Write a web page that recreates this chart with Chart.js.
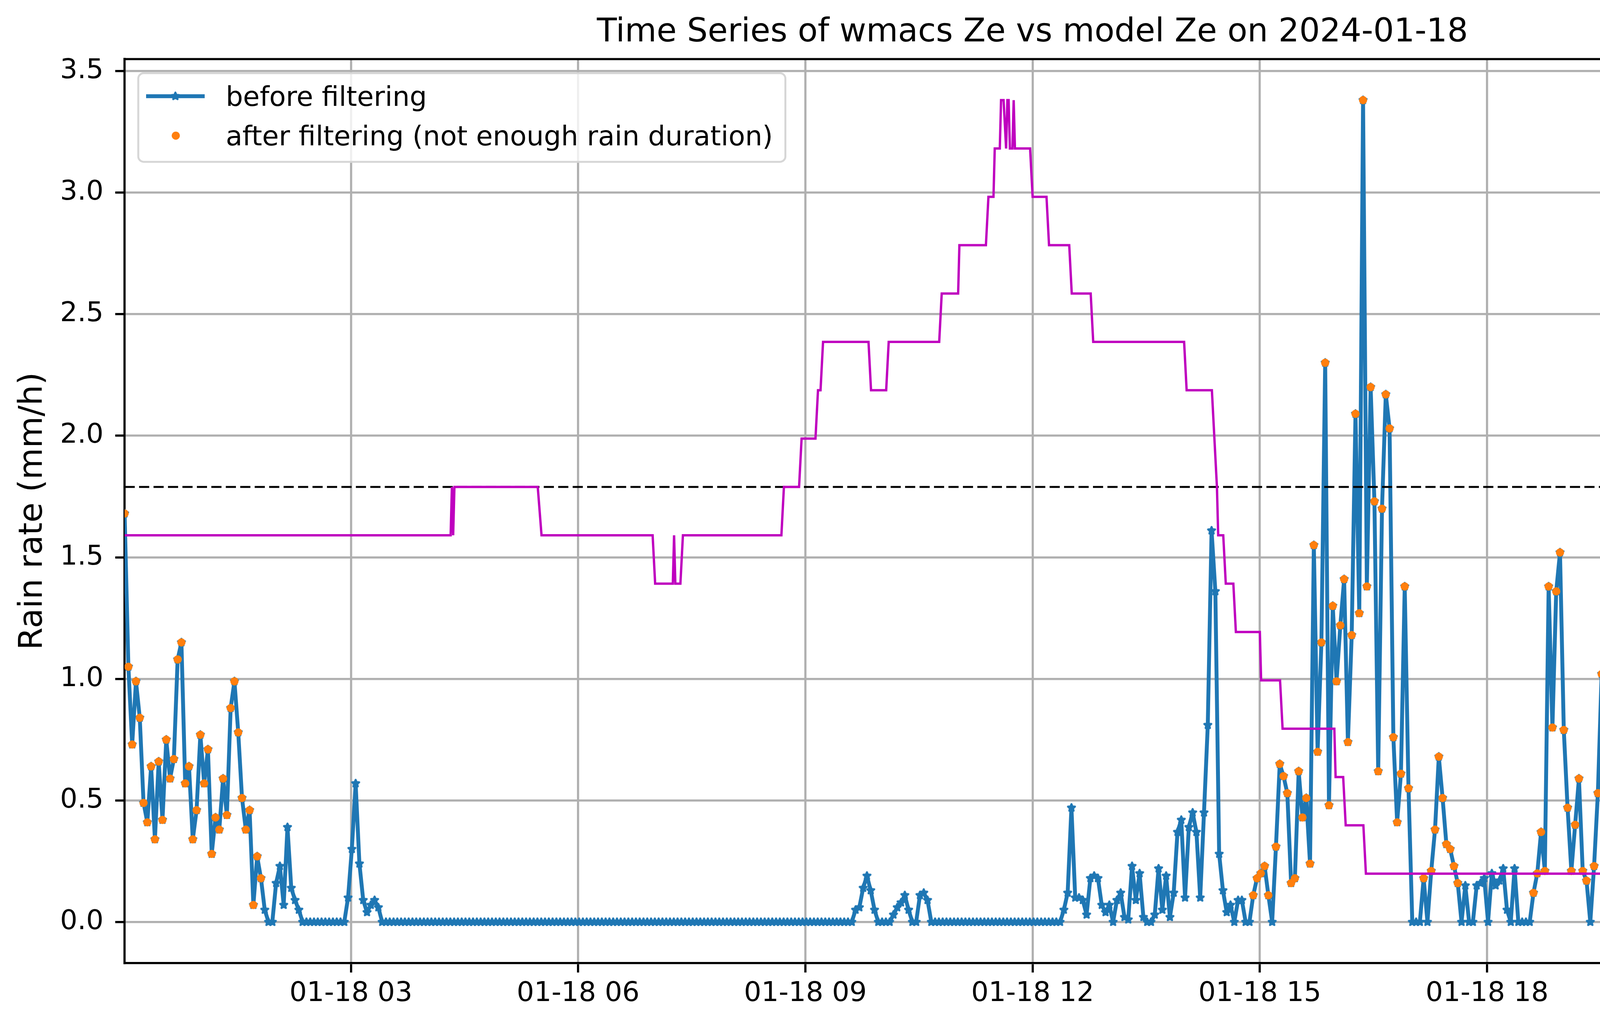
<!DOCTYPE html>
<html>
<head>
<meta charset="utf-8">
<script src="https://cdn.jsdelivr.net/npm/chart.js@4.4.1/dist/chart.umd.min.js"></script>
<style>
html,body{margin:0;padding:0;background:#fff;overflow:hidden}
canvas{display:block}
</style>
</head>
<body>
<canvas id="c" width="5344" height="2631" style="width:5344px;height:2631px"></canvas>
<script>
// ---------------- data ----------------
const titleText = 'Time Series of wmacs Ze vs model Ze on 2024-01-18';
const leftAxisLabel = 'Rain rate (mm/h)';
const rightAxisLabel = 'Temperature (\u00b0 C)';
const seriesLabels = ['before filtering', 'after filtering (not enough rain duration)'];

// rain rate sampled every 3 minutes from 00:00:45 (mm/h), one row per hour
const firstMinute = 0.75;
const stepMinutes = 3;
const rainRate = [
  1.68,1.05,0.73,0.99,0.84,0.49,0.41,0.64,0.34,0.66,0.42,0.75,0.59,0.67,1.08,1.15,0.57,0.64,0.34,0.46, // 00
  0.77,0.57,0.71,0.28,0.43,0.38,0.59,0.44,0.88,0.99,0.78,0.51,0.38,0.46,0.07,0.27,0.18,0.05,0,0,      // 01
  0.16,0.23,0.07,0.39,0.14,0.09,0.05,0,0,0,0,0,0,0,0,0,0,0,0,0.10,                                      // 02
  0.30,0.57,0.24,0.09,0.04,0.07,0.09,0.06,0,0,0,0,0,0,0,0,0,0,0,0,                                     // 03
  0,0,0,0,0,0,0,0,0,0,0,0,0,0,0,0,0,0,0,0,                                                             // 04
  0,0,0,0,0,0,0,0,0,0,0,0,0,0,0,0,0,0,0,0,                                                             // 05
  0,0,0,0,0,0,0,0,0,0,0,0,0,0,0,0,0,0,0,0,                                                             // 06
  0,0,0,0,0,0,0,0,0,0,0,0,0,0,0,0,0,0,0,0,                                                             // 07
  0,0,0,0,0,0,0,0,0,0,0,0,0,0,0,0,0,0,0,0,                                                             // 08
  0,0,0,0,0,0,0,0,0,0,0,0,0,0.05,0.06,0.14,0.19,0.13,0.05,0,                                           // 09
  0,0,0,0.03,0.06,0.08,0.11,0.05,0,0,0.11,0.12,0.09,0,0,0,0,0,0,0,                                     // 10
  0,0,0,0,0,0,0,0,0,0,0,0,0,0,0,0,0,0,0,0,                                                             // 11
  0,0,0,0,0,0,0,0,0.05,0.12,0.47,0.10,0.10,0.09,0.03,0.18,0.19,0.18,0.07,0.04,                         // 12
  0.07,0,0.09,0.12,0.02,0.01,0.23,0.09,0.20,0.02,0,0,0.03,0.22,0.05,0.19,0.02,0.12,0.37,0.42,          // 13
  0.10,0.39,0.45,0.37,0.10,0.45,0.81,1.61,1.36,0.28,0.13,0.04,0.07,0,0.09,0.09,0,0,0.11,0.18,          // 14
  0.20,0.23,0.11,0,0.31,0.65,0.60,0.53,0.16,0.18,0.62,0.43,0.51,0.24,1.55,0.70,1.15,2.30,0.48,1.30,    // 15
  0.99,1.22,1.41,0.74,1.18,2.09,1.27,3.38,1.38,2.20,1.73,0.62,1.70,2.17,2.03,0.76,0.41,0.61,1.38,0.55, // 16
  0,0,0,0.18,0,0.21,0.38,0.68,0.51,0.32,0.30,0.23,0.16,0,0.15,0,0,0.15,0.16,0.18,                      // 17
  0,0.20,0.15,0.17,0.22,0.05,0,0.22,0,0,0,0,0.12,0.20,0.37,0.21,1.38,0.80,1.36,1.52,                   // 18
  0.79,0.47,0.21,0.40,0.59,0.21,0.17,0,0.23,0.53,1.02,0.75,0.58,0.65,1.40,0.96,0.61,1.46,1.00,1.36,    // 19
  0.47,0.73,0.39,0.71,0.46,0.99,1.10,0.82,0.40,0.45,0.79,0.22,0.42,0.60,0.53,0.25,0.14,0.26,0.32,0.49, // 20
  0.31,0.19,0.25,0.12,0,0.22,0.27,0.21,0.16,0.28,0.38,0.33,0.36,0.35,0,0.15,0.39,0.68,0.93,0.52,       // 21
  0.65,0.25,0.59,0.38,0.32,0.43,0.55,0.86,0.25,0.74,0.37,0.91,1.12,0.77,0.82,0.66,0.60,0.40,0.24,0.47, // 22
  0.26,0.40,0.34,0.24,0,0.14,0.14,0,0.21,0.20,0.22,0.24,0.45,0,0.20,0.49,0,0.41,0.50,0.43              // 23
];

// rain periods (minutes of day) kept after the duration filter
const keptPeriods = [[0, 110], [892, 1058], [1112, 1440]];

// temperature (deg C) at the minutes where it changes
const tempMinutes = [0.75,259,260,261,262,328,331,419,421,435,436,437,441,443,521,523,535,537,548,550,552,554,
  590,592,604,606,646,648,661,662,683,685,689,690,694,695,697,699,700,701,702,704,705,706,718,720,731,733,
  749,751,766,768,840,842,862,864,866,867,871,873,879,881,900,901,916,918,959,960,966,968,982,984,1197,1199,1439.25];
const tempValues = [4,4,5,4,5,5,4,4,3,3,4,3,3,4,4,5,5,6,6,7,7,8,
  8,7,7,8,8,9,9,10,10,11,11,12,12,13,13,12,13,13,12,12,13,12,12,11,11,10,
  10,9,9,8,8,7,7,6,5,4,4,3,3,2,2,1,1,0,0,-1,-1,-2,-2,-3,-3,-4,-4];
const tempThreshold = 5;

const xTickMinutes = [180, 360, 540, 720, 900, 1080, 1260];
const xTickLabels = ['01-18 03', '01-18 06', '01-18 09', '01-18 12', '01-18 15', '01-18 18', '01-18 21'];
const rainTicks = [0, 0.5, 1.0, 1.5, 2.0, 2.5, 3.0, 3.5];
const tempTicks = [-2.5, 0, 2.5, 5, 7.5, 10, 12.5];

// ---------------- build ----------------
const X_MIN = 0.75, X_MAX = 1439.25;
const FONT = 'DejaVu Sans';
const BLUE = '#1f77b4', ORANGE = '#ff7f0e', MAGENTA = '#bf00bf', GRID = '#b0b0b0';

const rainTimes = rainRate.map((_, i) => firstMinute + i * stepMinutes);
const bluePts = rainRate.map((v, i) => ({x: rainTimes[i], y: v}));
const inKept = t => keptPeriods.some(p => t >= p[0] && t <= p[1]);
const orangePts = rainRate.map((v, i) => ({x: rainTimes[i], y: (v > 0 && inKept(rainTimes[i])) ? v : null}));
const tempPts = tempMinutes.map((t, i) => ({x: t, y: tempValues[i]}));
const threshPts = [{x: X_MIN, y: tempThreshold}, {x: X_MAX, y: tempThreshold}];

function makeStar(r, inner, edge, color) {
  const c = document.createElement('canvas');
  const s = Math.ceil(r * 2 + edge + 4);
  c.width = s; c.height = s;
  const g = c.getContext('2d');
  g.fillStyle = color;
  g.strokeStyle = color;
  g.lineWidth = edge;
  g.lineJoin = 'round';
  g.beginPath();
  for (let k = 0; k < 10; k++) {
    const rr = k % 2 === 0 ? r : r * inner;
    const a = -Math.PI / 2 + k * Math.PI / 5;
    const px = s / 2 + rr * Math.cos(a), py = s / 2 + rr * Math.sin(a);
    if (k === 0) g.moveTo(px, py); else g.lineTo(px, py);
  }
  g.closePath();
  g.fill();
  g.stroke();
  return c;
}
const starImg = makeStar(9.5, 0.45, 5, BLUE);

const decor = {
  id: 'decor',
  afterDatasetsDraw(chart) {
    const {ctx, chartArea: a} = chart;
    ctx.save();
    ctx.strokeStyle = '#000';
    ctx.lineWidth = 5.6;
    ctx.beginPath();
    ctx.moveTo(a.left - 2.8, a.top);
    ctx.lineTo(a.right + 2.8, a.top);
    ctx.stroke();
    ctx.restore();
  },
  afterDraw(chart) {
    const {ctx, chartArea: a} = chart;
    ctx.save();
    // right axis label (reads bottom to top)
    ctx.font = '83px "' + FONT + '"';
    ctx.fillStyle = '#000';
    ctx.textAlign = 'center';
    ctx.textBaseline = 'alphabetic';
    ctx.translate(a.right + 310, (a.top + a.bottom) / 2);
    ctx.rotate(-Math.PI / 2);
    ctx.fillText(rightAxisLabel, 0, 0);
    ctx.restore();

    // legend
    ctx.save();
    ctx.font = '69.5px "' + FONT + '"';
    const labels = [chart.data.datasets[3].label, chart.data.datasets[2].label];
    const textX = a.left + 259;
    const w = Math.max(...labels.map(t => ctx.measureText(t).width));
    const bx = a.left + 35, by = a.top + 36;
    const bw = textX + w + 32 - bx, bh = 227;
    ctx.beginPath();
    ctx.roundRect(bx, by, bw, bh, 14);
    ctx.fillStyle = 'rgba(255,255,255,0.8)';
    ctx.fill();
    ctx.lineWidth = 5;
    ctx.strokeStyle = '#d6d6d6';
    ctx.stroke();
    ctx.strokeStyle = BLUE;
    ctx.lineWidth = 10;
    ctx.beginPath();
    ctx.moveTo(a.left + 55, a.top + 95);
    ctx.lineTo(a.left + 205, a.top + 95);
    ctx.stroke();
    ctx.drawImage(starImg, a.left + 130 - starImg.width / 2, a.top + 95 - starImg.height / 2);
    ctx.fillStyle = ORANGE;
    ctx.beginPath();
    ctx.arc(a.left + 131, a.top + 196, 10.5, 0, Math.PI * 2);
    ctx.fill();
    ctx.fillStyle = '#000';
    ctx.textAlign = 'left';
    ctx.textBaseline = 'alphabetic';
    ctx.fillText(labels[0], textX, a.top + 120);
    ctx.fillText(labels[1], textX, a.top + 221);
    ctx.restore();
  }
};

const tickFont = {family: FONT, size: 70};

new Chart(document.getElementById('c').getContext('2d'), {
  type: 'line',
  data: {
    datasets: [
      {label: 'Temperature', data: tempPts, yAxisID: 'y2', borderColor: MAGENTA, borderWidth: 6,
       pointRadius: 0, tension: 0, fill: false, order: 1},
      {label: 'threshold', data: threshPts, yAxisID: 'y2', borderColor: '#000', borderWidth: 5,
       borderDash: [26, 11], pointRadius: 0, fill: false, order: 2},
      {label: seriesLabels[1], data: orangePts, yAxisID: 'y', showLine: false,
       pointRadius: 10.5, pointBackgroundColor: ORANGE, pointBorderColor: ORANGE, pointBorderWidth: 0, order: 3},
      {label: seriesLabels[0], data: bluePts, yAxisID: 'y', borderColor: BLUE, borderWidth: 10,
       borderJoinStyle: 'round', pointStyle: starImg, pointRadius: 11, pointBackgroundColor: BLUE,
       pointBorderColor: BLUE, tension: 0, fill: false, order: 4}
    ]
  },
  options: {
    responsive: false,
    maintainAspectRatio: false,
    animation: false,
    devicePixelRatio: 1,
    events: [],
    layout: {padding: {left: 0, right: 58, top: 0, bottom: 0}},
    plugins: {
      legend: {display: false},
      tooltip: {enabled: false},
      title: {display: true, text: titleText, color: '#000',
              font: {family: FONT, size: 83.5, weight: 'normal'}, padding: {top: 34, bottom: 17}}
    },
    scales: {
      x: {
        type: 'linear', position: 'bottom', min: X_MIN, max: X_MAX,
        afterBuildTicks: s => { s.ticks = xTickMinutes.map(v => ({value: v})); },
        afterFit: s => { s.height = 166; },
        ticks: {callback: v => xTickLabels[xTickMinutes.indexOf(v)], font: tickFont, color: '#000',
                padding: 13, maxRotation: 0, minRotation: 0, autoSkip: false},
        grid: {color: GRID, lineWidth: 5.6, tickColor: '#000', tickLength: 24, tickWidth: 5.6},
        border: {color: '#000', width: 5.6}
      },
      y: {
        type: 'linear', position: 'left', min: -0.169, max: 3.549,
        afterBuildTicks: s => { s.ticks = rainTicks.map(v => ({value: v})); },
        afterFit: s => { s.width = 319; },
        ticks: {callback: v => Number(v).toFixed(1), font: tickFont, color: '#000', padding: 30, autoSkip: false},
        grid: {color: GRID, lineWidth: 5.6, tickColor: '#000', tickLength: 24, tickWidth: 5.6},
        border: {color: '#000', width: 5.6},
        title: {display: true, text: leftAxisLabel, color: '#000', font: {family: FONT, size: 83},
                padding: {top: 36, bottom: 0}}
      },
      y2: {
        type: 'linear', position: 'right', min: -4.85, max: 13.85,
        afterBuildTicks: s => { s.ticks = tempTicks.map(v => ({value: v})); },
        afterFit: s => { s.width = 318; },
        ticks: {callback: v => (v < 0 ? '\u2212' : '') + Math.abs(v).toFixed(1), font: tickFont,
                color: '#000', padding: 30, autoSkip: false},
        grid: {drawOnChartArea: false, tickColor: '#000', tickLength: 24, tickWidth: 5.6, lineWidth: 5.6},
        border: {color: MAGENTA, width: 5.6}
      }
    }
  },
  plugins: [decor]
});
</script>
</body>
</html>
